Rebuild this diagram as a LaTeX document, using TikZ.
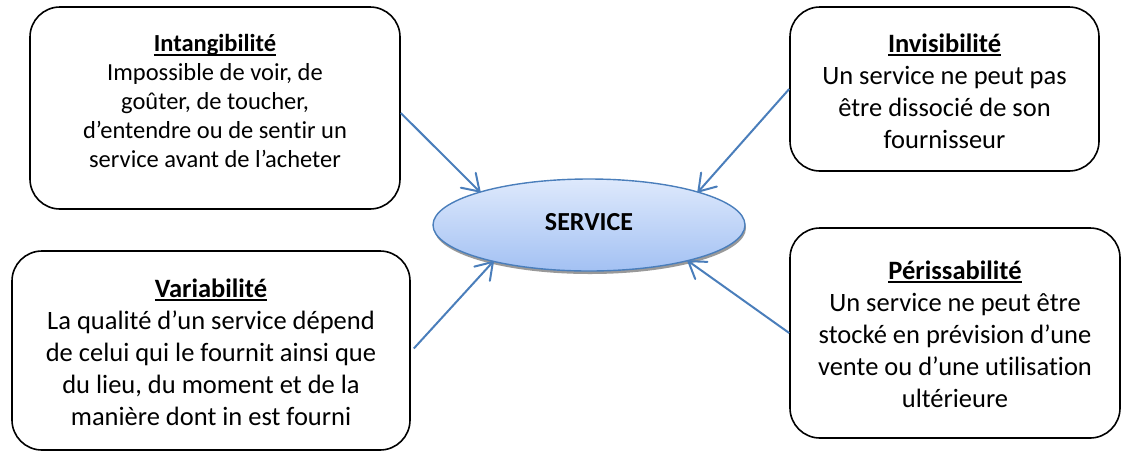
\documentclass[tikz,border=0pt]{standalone}
\usepackage{fontspec}
\setmainfont{Carlito}[Ligatures=NoCommon]
\usetikzlibrary{shapes.geometric,shadows,arrows.meta}

\definecolor{arrowblue}{RGB}{74,126,187}
\definecolor{ovaltop}{RGB}{222,233,252}
\definecolor{ovalbottom}{RGB}{163,193,243}

% underlined heading with a thick rule
\newcommand\headline[1]{\setbox0\hbox{\bfseries #1}\rlap{\rule[-4pt]{\wd0}{1.8pt}}\box0}

% plain open V arrow tip made of two straight strokes
\pgfdeclarearrow{
  name = OpenVee,
  parameters = {\the\pgfarrowlength,\the\pgfarrowwidth,\the\pgfarrowlinewidth},
  setup code = {
    \pgfarrowssettipend{0.5\pgfarrowlinewidth}
    \pgfarrowssetlineend{-0.5\pgfarrowlinewidth}
    \pgfarrowsupperhullpoint{-\pgfarrowlength}{0.5\pgfarrowwidth}
    \pgfarrowshullpoint{0pt}{0pt}
  },
  drawing code = {
    \pgfsetdash{}{0pt}
    \pgfsetroundcap
    \pgfsetroundjoin
    \pgfpathmoveto{\pgfqpoint{-\pgfarrowlength}{0.5\pgfarrowwidth}}
    \pgfpathlineto{\pgfqpoint{0pt}{0pt}}
    \pgfpathlineto{\pgfqpoint{-\pgfarrowlength}{-0.5\pgfarrowwidth}}
    \pgfusepathqstroke
  },
  defaults = {length=16pt, width=20pt}
}

\tikzset{
  card/.style={draw=black, line width=1.6pt, rounded corners=30pt, inner sep=0pt},
  cardtext/.style={align=center, inner sep=0pt, font=\fontsize{26.5}{32}\selectfont},
  smalltext/.style={cardtext, font=\fontsize{24.5}{29}\selectfont},
  oval/.style={ellipse, draw=arrowblue, line width=1.4pt, inner sep=0pt,
    top color=ovaltop, bottom color=ovalbottom,
    drop shadow={shadow xshift=1pt, shadow yshift=-3pt, fill=black!40, opacity=1},
    font=\fontsize{26}{30}\bfseries\selectfont},
  link/.style={draw=arrowblue, line width=2pt, -{OpenVee[length=16pt,width=21pt]}}
}

\begin{document}
\begin{tikzpicture}[x=1pt,y=-1pt]
\useasboundingbox (0,0) rectangle (1121,451);

% central oval
\node[oval, minimum width=312pt, minimum height=92pt] (serv) at (589,225) {\raisebox{6pt}{SERVICE}};

% frames
\node[card, minimum width=370pt, minimum height=202pt] (intang) at (215,108) {};
\node[card, minimum width=309pt, minimum height=164pt] (invis) at (944.5,89) {};
\node[card, minimum width=398pt, minimum height=199pt] (var) at (211,350.5) {};
\node[card, minimum width=330pt, minimum height=210pt] (peris) at (955,333) {};

% texts
\node[smalltext] (intangtxt) at (215,101) {\headline{Intangibilité}\\
  Impossible de voir, de\\ goûter, de toucher,\\
  d’entendre ou de sentir un\\ service avant de l’acheter};
\node[cardtext] (invistxt) at (944.5,91) {\headline{Invisibilité}\\
  Un service ne peut pas\\ être dissocié de son\\ fournisseur};
\node[cardtext] (vartxt) at (211,352) {\headline{Variabilité}\\
  La qualité d’un service dépend\\ de celui qui le fournit ainsi que\\
  du lieu, du moment et de la\\ manière dont in est fourni};
\node[cardtext] (peristxt) at (955,334) {\headline{Périssabilité}\\
  Un service ne peut être\\ stocké en prévision d’une\\
  vente ou d’une utilisation\\ ultérieure};

% connectors
\draw[link] ([yshift=-5pt]intang.east) -- (serv.163.7);
\draw[link] (invis.west) -- (serv.17.2);
\draw[link] ([xshift=3pt,yshift=2pt]var.east) -- (serv.201);
\draw[link] (peris.west) -- (serv.340);
\end{tikzpicture}
\end{document}
